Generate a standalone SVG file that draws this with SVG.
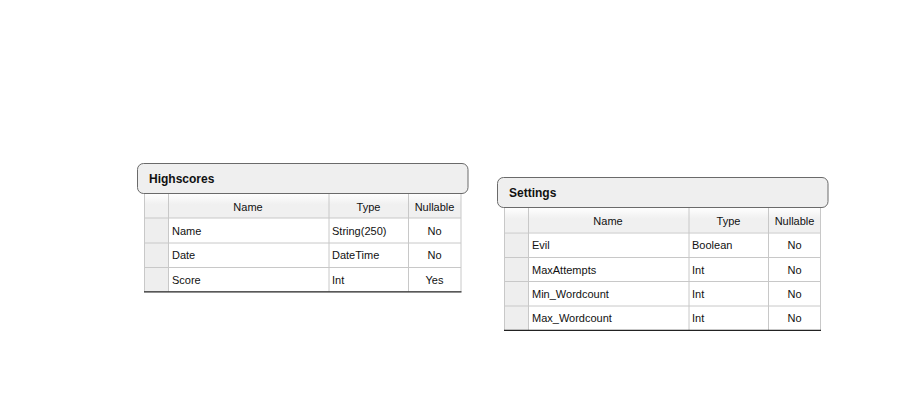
<svg xmlns="http://www.w3.org/2000/svg" width="908" height="416" viewBox="0 0 908 416">
<defs>
<linearGradient id="hg" x1="0" y1="0" x2="0" y2="1">
<stop offset="0" stop-color="#ffffff"/>
<stop offset="0.45" stop-color="#f0f0f0"/>
<stop offset="1" stop-color="#f0f0f0"/>
</linearGradient>
</defs>
<style>
text{font-family:"Liberation Sans",Arial,sans-serif;font-size:11px;fill:#111}
.title{font-weight:bold;font-size:12px}
.hdr{fill:#efefef;stroke:#6a6a6a;stroke-width:1}
.tbl{fill:#ffffff}
.sel{fill:#eeeeee}
.grid{stroke:#c8c8c8;stroke-width:1;fill:none}
.bot{stroke:#222;stroke-width:1.2}
.c{text-anchor:middle}
</style>
<rect width="908" height="416" fill="#ffffff"/>
<g id="highscores">
<rect class="tbl" x="144.5" y="193.5" width="316.5" height="98"/>
<rect x="144.5" y="193.5" width="316.5" height="24.5" fill="url(#hg)"/>
<rect class="sel" x="144.5" y="218" width="24" height="73.5"/>
<rect class="hdr" x="137.5" y="163.5" width="330.5" height="30" rx="6"/>
<text class="title" x="149" y="183">Highscores</text>
<path class="grid" d="M144.5 194V291.5M461 194V291.5M168.5 194V291.5M329 194V291.5M408.5 194V291.5M144.5 218H461M144.5 243H461M144.5 267.5H461"/>
<line class="bot" x1="144" y1="291.8" x2="461.5" y2="291.8"/>
<text class="c" x="248" y="211">Name</text>
<text class="c" x="368.5" y="211">Type</text>
<text class="c" x="434.5" y="211">Nullable</text>
<text x="172" y="235">Name</text>
<text x="332" y="235">String(250)</text>
<text class="c" x="434.5" y="235">No</text>
<text x="172" y="259">Date</text>
<text x="332" y="259">DateTime</text>
<text class="c" x="434.5" y="259">No</text>
<text x="172" y="283.5">Score</text>
<text x="332" y="283.5">Int</text>
<text class="c" x="434.5" y="283.5">Yes</text>
</g>
<g id="settings">
<rect class="tbl" x="504.5" y="207.5" width="316" height="122.5"/>
<rect x="504.5" y="207.5" width="316" height="25" fill="url(#hg)"/>
<rect class="sel" x="504.5" y="233" width="24" height="97"/>
<rect class="hdr" x="497.5" y="177.5" width="330.5" height="30" rx="6"/>
<text class="title" x="509" y="197">Settings</text>
<path class="grid" d="M504.5 208V330M820.5 208V330M528.5 208V330M689 208V330M768.5 208V330M504.5 233H820.5M504.5 257.5H820.5M504.5 281.5H820.5M504.5 306H820.5"/>
<line class="bot" x1="504" y1="330.3" x2="821" y2="330.3"/>
<text class="c" x="608" y="225">Name</text>
<text class="c" x="728.5" y="225">Type</text>
<text class="c" x="794.5" y="225">Nullable</text>
<text x="532" y="249">Evil</text>
<text x="692" y="249">Boolean</text>
<text class="c" x="794.5" y="249">No</text>
<text x="532" y="273.5">MaxAttempts</text>
<text x="692" y="273.5">Int</text>
<text class="c" x="794.5" y="273.5">No</text>
<text x="532" y="297.5">Min_Wordcount</text>
<text x="692" y="297.5">Int</text>
<text class="c" x="794.5" y="297.5">No</text>
<text x="532" y="322">Max_Wordcount</text>
<text x="692" y="322">Int</text>
<text class="c" x="794.5" y="322">No</text>
</g>
<g id="connectors"/>
</svg>
